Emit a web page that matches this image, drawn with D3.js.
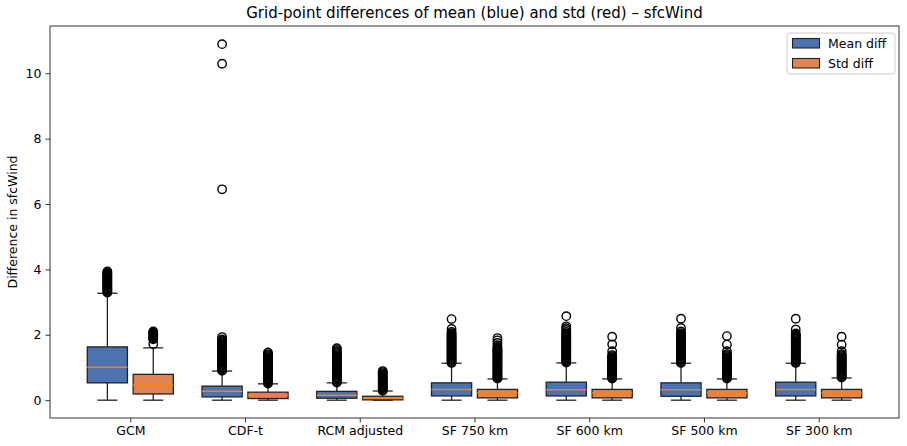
<!DOCTYPE html>
<html>
<head>
<meta charset="utf-8">
<script src="https://cdn.jsdelivr.net/npm/d3@7"></script>
<style>
body { margin: 0; background: #fff; }
text { font-family: "DejaVu Sans", sans-serif; fill: #000; }
</style>
</head>
<body>
<svg width="907" height="446"></svg>
<script>
var WIDTH = 907;
var HEIGHT = 446;

var categories = ['GCM', 'CDF-t', 'RCM adjusted', 'SF 750 km', 'SF 600 km', 'SF 500 km', 'SF 300 km'];

// [lower whisker, q1, median, q3, upper whisker]
var meanStats = [
    [0, 0.53, 1.01, 1.63, 3.27],
    [0, 0.10, 0.27, 0.43, 0.89],
    [0, 0.06, 0.15, 0.27, 0.53],
    [0, 0.13, 0.33, 0.53, 1.13],
    [0, 0.13, 0.32, 0.55, 1.14],
    [0, 0.12, 0.32, 0.53, 1.13],
    [0, 0.13, 0.33, 0.55, 1.13]
];
var stdStats = [
    [0, 0.19, 0.46, 0.79, 1.60],
    [0, 0.05, 0.15, 0.245, 0.50],
    [0, 0.01, 0.06, 0.12, 0.28],
    [0, 0.07, 0.22, 0.33, 0.65],
    [0, 0.07, 0.22, 0.33, 0.65],
    [0, 0.07, 0.22, 0.33, 0.65],
    [0, 0.07, 0.22, 0.33, 0.68]
];

var meanFliers = [
    [3.29, 3.31, 3.34, 3.37, 3.40, 3.42, 3.45, 3.48, 3.51, 3.53, 3.56, 3.59, 3.62, 3.64, 3.67, 3.70, 3.73, 3.75, 3.78, 3.81, 3.83, 3.86, 3.88, 3.91, 3.94],
    [0.90, 0.93, 0.96, 0.99, 1.02, 1.05, 1.08, 1.11, 1.14, 1.17, 1.20, 1.23, 1.26, 1.29, 1.32, 1.35, 1.38, 1.41, 1.44, 1.47, 1.50, 1.53, 1.56, 1.59, 1.62, 1.65, 1.68, 1.71, 1.74, 1.77, 1.80, 1.83, 1.86, 1.93, 6.45, 10.29, 10.89],
    [0.54, 0.57, 0.60, 0.63, 0.66, 0.69, 0.72, 0.75, 0.78, 0.81, 0.84, 0.87, 0.90, 0.93, 0.96, 0.99, 1.02, 1.05, 1.08, 1.11, 1.14, 1.17, 1.20, 1.23, 1.26, 1.29, 1.32, 1.35, 1.38, 1.41, 1.44, 1.47, 1.50, 1.54, 1.59],
    [1.14, 1.17, 1.20, 1.23, 1.26, 1.29, 1.32, 1.35, 1.38, 1.41, 1.44, 1.47, 1.50, 1.53, 1.56, 1.59, 1.62, 1.65, 1.68, 1.71, 1.74, 1.77, 1.80, 1.83, 1.86, 1.89, 1.92, 1.95, 1.98, 2.02, 2.05, 2.09, 2.18, 2.48],
    [1.15, 1.18, 1.21, 1.24, 1.27, 1.30, 1.33, 1.36, 1.39, 1.42, 1.45, 1.48, 1.51, 1.54, 1.57, 1.60, 1.63, 1.66, 1.69, 1.72, 1.75, 1.78, 1.81, 1.84, 1.87, 1.90, 1.93, 1.96, 1.99, 2.02, 2.05, 2.09, 2.15, 2.20, 2.26, 2.57],
    [1.14, 1.17, 1.20, 1.23, 1.26, 1.29, 1.32, 1.35, 1.38, 1.41, 1.44, 1.47, 1.50, 1.53, 1.56, 1.59, 1.62, 1.65, 1.68, 1.71, 1.74, 1.77, 1.80, 1.83, 1.86, 1.89, 1.92, 1.95, 1.98, 2.01, 2.05, 2.10, 2.21, 2.49],
    [1.14, 1.17, 1.20, 1.23, 1.26, 1.29, 1.32, 1.35, 1.38, 1.41, 1.44, 1.47, 1.50, 1.53, 1.56, 1.59, 1.62, 1.65, 1.68, 1.71, 1.74, 1.77, 1.80, 1.83, 1.86, 1.89, 1.92, 1.95, 1.98, 2.01, 2.04, 2.16, 2.49]
];
var stdFliers = [
    [1.72, 1.86, 1.89, 1.92, 1.95, 1.98, 2.01, 2.04, 2.07, 2.10],
    [0.51, 0.54, 0.57, 0.60, 0.63, 0.66, 0.69, 0.72, 0.75, 0.78, 0.81, 0.84, 0.87, 0.90, 0.93, 0.96, 0.99, 1.02, 1.05, 1.08, 1.11, 1.14, 1.17, 1.20, 1.23, 1.26, 1.29, 1.32, 1.35, 1.38, 1.41, 1.46],
    [0.29, 0.32, 0.35, 0.38, 0.41, 0.44, 0.47, 0.50, 0.53, 0.56, 0.59, 0.62, 0.65, 0.68, 0.71, 0.74, 0.77, 0.80, 0.83, 0.86, 0.89],
    [0.66, 0.69, 0.72, 0.75, 0.78, 0.81, 0.84, 0.87, 0.90, 0.93, 0.96, 0.99, 1.02, 1.05, 1.08, 1.11, 1.14, 1.17, 1.20, 1.23, 1.26, 1.29, 1.32, 1.35, 1.38, 1.41, 1.44, 1.47, 1.50, 1.53, 1.56, 1.59, 1.62, 1.68, 1.75, 1.83, 1.90],
    [0.66, 0.69, 0.72, 0.75, 0.78, 0.81, 0.84, 0.87, 0.90, 0.93, 0.96, 0.99, 1.02, 1.05, 1.08, 1.11, 1.14, 1.17, 1.20, 1.23, 1.26, 1.29, 1.32, 1.35, 1.38, 1.50, 1.71, 1.94],
    [0.66, 0.69, 0.72, 0.75, 0.78, 0.81, 0.84, 0.87, 0.90, 0.93, 0.96, 0.99, 1.02, 1.05, 1.08, 1.11, 1.14, 1.17, 1.20, 1.23, 1.26, 1.29, 1.32, 1.35, 1.38, 1.41, 1.50, 1.70, 1.96],
    [0.69, 0.72, 0.75, 0.78, 0.81, 0.84, 0.87, 0.90, 0.93, 0.96, 0.99, 1.02, 1.05, 1.08, 1.11, 1.14, 1.17, 1.20, 1.23, 1.26, 1.29, 1.32, 1.35, 1.38, 1.41, 1.50, 1.70, 1.94]
];

var yTicks = [0, 2, 4, 6, 8, 10];
var seriesNames = ['Mean diff', 'Std diff'];
var seriesColors = ['#4c72b0', '#dd8452'];

var LEFT = 50, RIGHT = 899, TOP = 26, BOTTOM = 418;

var svg = d3.select('svg')
    .attr('width', WIDTH)
    .attr('height', HEIGHT);

var xScale = d3.scaleLinear().domain([0.3, 7.7]).range([LEFT, RIGHT]);
var yScale = d3.scaleLinear().domain([-0.545, 11.445]).range([BOTTOM, TOP]);

var BOX_W = 0.35;
var OFFSET = 0.2;

// one entry per box
var boxes = [];
categories.forEach(function(cat, i){
    boxes.push({pos: i + 1 - OFFSET, s: meanStats[i], fl: meanFliers[i], color: seriesColors[0]});
    boxes.push({pos: i + 1 + OFFSET, s: stdStats[i], fl: stdFliers[i], color: seriesColors[1]});
});

var g = svg.append('g');

boxes.forEach(function(b){
    var x0 = xScale(b.pos - BOX_W / 2);
    var x1 = xScale(b.pos + BOX_W / 2);
    var xc = xScale(b.pos);
    var cw = (x1 - x0) / 4;
    var bg = g.append('g');
    // whiskers
    bg.append('line')
        .attr('x1', xc).attr('x2', xc)
        .attr('y1', yScale(b.s[0])).attr('y2', yScale(b.s[1]))
        .attr('stroke', '#222').attr('stroke-width', 1.3);
    bg.append('line')
        .attr('x1', xc).attr('x2', xc)
        .attr('y1', yScale(b.s[3])).attr('y2', yScale(b.s[4]))
        .attr('stroke', '#222').attr('stroke-width', 1.3);
    // caps
    [b.s[0], b.s[4]].forEach(function(v){
        bg.append('line')
            .attr('x1', xc - cw).attr('x2', xc + cw)
            .attr('y1', yScale(v)).attr('y2', yScale(v))
            .attr('stroke', '#222').attr('stroke-width', 1.3);
    });
    // box
    bg.append('rect')
        .attr('x', x0)
        .attr('y', yScale(b.s[3]))
        .attr('width', x1 - x0)
        .attr('height', yScale(b.s[1]) - yScale(b.s[3]))
        .attr('fill', b.color)
        .attr('stroke', '#222').attr('stroke-width', 1.3);
    // median
    bg.append('line')
        .attr('x1', x0).attr('x2', x1)
        .attr('y1', yScale(b.s[2])).attr('y2', yScale(b.s[2]))
        .attr('stroke', '#ff7f0e').attr('stroke-width', 1.5);
    // fliers
    bg.selectAll('circle')
        .data(b.fl)
        .enter()
        .append('circle')
        .attr('cx', xc)
        .attr('cy', function(d){ return yScale(d); })
        .attr('r', 4.2)
        .attr('fill', 'none')
        .attr('stroke', '#000')
        .attr('stroke-width', 1.4);
});

// axes
var leftAxis = d3.axisLeft(yScale).tickValues(yTicks).tickSize(4.5).tickPadding(4);
svg.append('g').attr('id', 'left-axis')
    .attr('transform', 'translate(' + LEFT + ',0)')
    .call(leftAxis);

var bottomAxis = d3.axisBottom(xScale)
    .tickValues(d3.range(1, categories.length + 1))
    .tickFormat(function(d){ return categories[d - 1]; })
    .tickSize(4.5).tickPadding(4);
svg.append('g').attr('id', 'bottom-axis')
    .attr('transform', 'translate(0,' + BOTTOM + ')')
    .call(bottomAxis);

svg.selectAll('#left-axis .domain, #bottom-axis .domain').remove();
svg.selectAll('.tick text').attr('font-size', 12.5).attr('font-family', '"DejaVu Sans", sans-serif').attr('fill', '#000');
svg.selectAll('.tick line').attr('stroke', '#333');

// frame
svg.append('rect')
    .attr('x', LEFT).attr('y', TOP)
    .attr('width', RIGHT - LEFT).attr('height', BOTTOM - TOP)
    .attr('fill', 'none').attr('stroke', '#333').attr('stroke-width', 1);

// title & labels
svg.append('text')
    .attr('x', (LEFT + RIGHT) / 2).attr('y', 18)
    .attr('text-anchor', 'middle')
    .attr('font-size', 15)
    .text('Grid-point differences of mean (blue) and std (red) \u2013 sfcWind');

svg.append('text')
    .attr('transform', 'translate(17,' + (TOP + BOTTOM) / 2 + ') rotate(-90)')
    .attr('text-anchor', 'middle')
    .attr('font-size', 12.5)
    .text('Difference in sfcWind');

// legend
var legend = svg.append('g').attr('transform', 'translate(787,33)');
legend.append('rect')
    .attr('width', 108).attr('height', 41).attr('rx', 3)
    .attr('fill', '#fff').attr('fill-opacity', 0.8)
    .attr('stroke', '#ccc');
seriesNames.forEach(function(name, i){
    legend.append('rect')
        .attr('x', 5.5).attr('y', 5.5 + i * 20)
        .attr('width', 27).attr('height', 9.5)
        .attr('fill', seriesColors[i])
        .attr('stroke', '#222').attr('stroke-width', 1.1);
    legend.append('text')
        .attr('x', 41).attr('y', 10.5 + i * 20)
        .attr('dy', '0.35em')
        .attr('font-size', 12.5)
        .text(name);
});
</script>
</body>
</html>
